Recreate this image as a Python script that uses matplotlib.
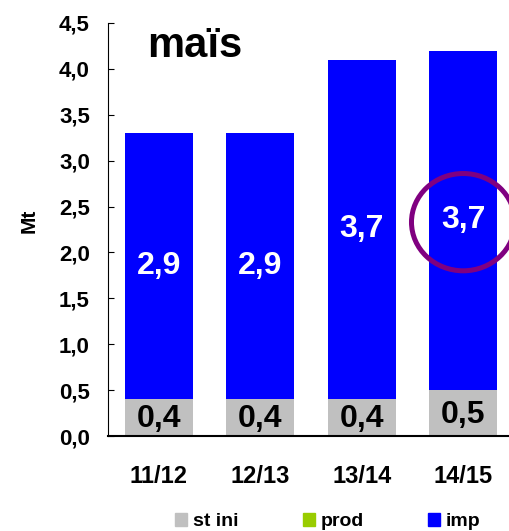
import matplotlib
matplotlib.use("Agg")
import matplotlib.pyplot as plt
from matplotlib.patches import Ellipse, Patch

plt.rcParams['font.family'] = ['Liberation Sans', 'DejaVu Sans']
plt.rcParams['font.weight'] = 'bold'

categories = ["11/12", "12/13", "13/14", "14/15"]
st_ini = [0.4, 0.4, 0.4, 0.5]
prod = [0.0, 0.0, 0.0, 0.0]
imp = [2.9, 2.9, 3.7, 3.7]
yticks = [0.0, 0.5, 1.0, 1.5, 2.0, 2.5, 3.0, 3.5, 4.0, 4.5]
title = "maïs"

c_st, c_prod, c_imp = "#c0c0c0", "#99cc00", "#0000ff"

fig = plt.figure(figsize=(5.10, 5.31), dpi=100)
ax = fig.add_axes([108/510, (531-436)/531, 406/510, 413/531])
x = list(range(len(categories)))
w = 0.67
ax.bar(x, st_ini, w, color=c_st)
ax.bar(x, prod, w, bottom=st_ini, color=c_prod)
bottoms = [a + b for a, b in zip(st_ini, prod)]
ax.bar(x, imp, w, bottom=bottoms, color=c_imp)

for i in x:
    ax.text(i, st_ini[i] / 2 - 0.02, f"{st_ini[i]:.1f}".replace('.', ','),
            ha='center', va='center', fontsize=23, fontweight='bold', color='black')
    ax.text(i, bottoms[i] + imp[i] / 2, f"{imp[i]:.1f}".replace('.', ','),
            ha='center', va='center', fontsize=23, fontweight='bold', color='white')

ax.set_xlim(-0.5, 3.5)
ax.set_ylim(0, 4.5)
ax.set_yticks(yticks)
ax.set_yticklabels([f"{t:.1f}".replace('.', ',') for t in yticks], fontsize=16, fontweight='bold')
ax.set_xticks(x)
ax.set_xticklabels(categories, fontsize=17, fontweight='bold')
ax.tick_params(axis='x', length=0, pad=21)
ax.tick_params(axis='y', length=4.5, direction='in', pad=13, width=0.8)
ax.spines['top'].set_visible(False)
ax.spines['right'].set_visible(False)
ax.spines['bottom'].set_linewidth(1.5)
ax.spines['left'].set_linewidth(0.8)
ax.set_ylabel("Mt", fontsize=15, fontweight='bold')
ax.yaxis.set_label_coords((39 - 108) / 406, (436 - 221) / 413)

ax.text(0.096, 0.918, title, transform=ax.transAxes, ha='left', va='baseline',
        fontsize=30, fontweight='bold')

ell = Ellipse((3.0, 2.33), 1.02, 1.06, fill=False, edgecolor='#800080', linewidth=3.6, clip_on=False)
ax.add_patch(ell)

handles = [Patch(color=c_st, label='st ini'), Patch(color=c_prod, label='prod'), Patch(color=c_imp, label='imp')]
fig.legend(handles=handles, loc='center', bbox_to_anchor=(0.643, 0.018), ncol=3, frameon=False,
           handlelength=0.62, handleheight=0.65, handletextpad=0.3, columnspacing=3.3,
           borderpad=0, prop={'weight': 'bold', 'size': 14})

fig.savefig("out.png", dpi=100)
